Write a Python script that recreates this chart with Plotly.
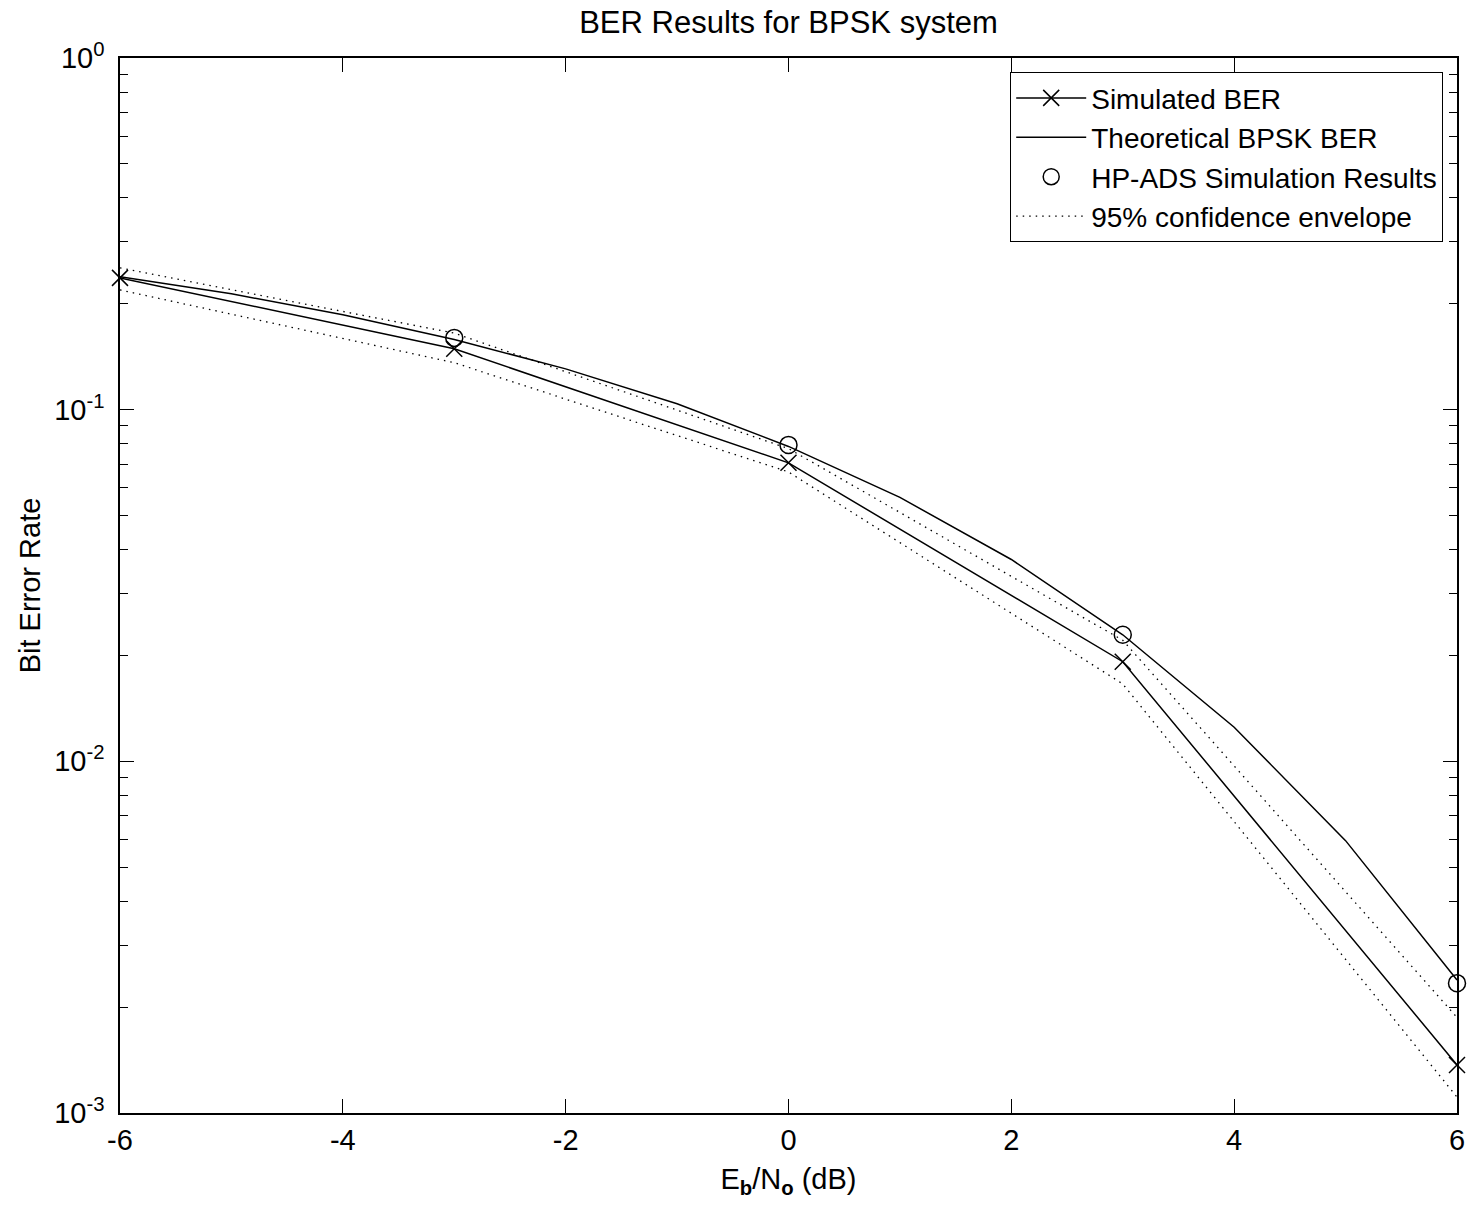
import plotly.graph_objects as go

# ---- data ----
ebno_theory = [-6, -5, -4, -3, -2, -1, 0, 1, 2, 3, 4, 5, 6]
ber_theory = [0.2388, 0.2135, 0.1861, 0.1584, 0.1306, 0.1040, 0.0786,
              0.0563, 0.0375, 0.0229, 0.0125, 0.00595, 0.00239]

ebno_sim = [-6, -3, 0, 3, 6]
ber_sim = [0.237, 0.149, 0.0706, 0.0192, 0.00137]
ber_upper = [0.253, 0.165, 0.0775, 0.0221, 0.00187]
ber_lower = [0.219, 0.136, 0.0665, 0.0166, 0.00111]

ebno_ads = [-3, 0, 3, 6]
ber_ads = [0.160, 0.0794, 0.0229, 0.00234]

x_ticks = [-6, -4, -2, 0, 2, 4, 6]
x_tick_text = ["-6", "-4", "-2", "0", "2", "4", "6"]
y_ticks = [1e-3, 1e-2, 1e-1, 1e0]
y_tick_text = ["10<sup>-3</sup>", "10<sup>-2</sup>", "10<sup>-1</sup>", "10<sup>0</sup>"]
y_minor = [m * 10.0 ** e for e in (-3, -2, -1) for m in range(2, 10)]

FONT = "Liberation Sans, Arial, sans-serif"
DOT = "1.5px,5px"

fig = go.Figure()

fig.add_trace(go.Scatter(
    x=ebno_sim, y=ber_sim, mode="lines+markers", name="Simulated BER",
    line=dict(color="black", width=1.5),
    marker=dict(symbol="x-thin", size=16, line=dict(color="black", width=1.5)),
    cliponaxis=False))

fig.add_trace(go.Scatter(
    x=ebno_theory, y=ber_theory, mode="lines", name="Theoretical BPSK BER",
    line=dict(color="black", width=1.5)))

fig.add_trace(go.Scatter(
    x=ebno_ads, y=ber_ads, mode="markers", name="HP-ADS Simulation Results",
    marker=dict(symbol="circle-open", size=17, color="black", line=dict(color="black", width=1.5)),
    cliponaxis=False))

fig.add_trace(go.Scatter(
    x=ebno_sim, y=ber_upper, mode="lines", name="95% confidence envelope",
    legendgroup="env", line=dict(color="black", width=1.3, dash=DOT)))

fig.add_trace(go.Scatter(
    x=ebno_sim, y=ber_lower, mode="lines", name="95% confidence envelope",
    legendgroup="env", showlegend=False,
    line=dict(color="black", width=1.3, dash=DOT)))

fig.update_layout(
    width=1471, height=1205,
    margin=dict(l=120, r=14, t=58, b=92, autoexpand=False),
    paper_bgcolor="white", plot_bgcolor="white",
    font=dict(family=FONT, size=29, color="black"),
    title=dict(text="BER Results for BPSK system", xref="paper", x=0.5, xanchor="center",
               yref="container", y=1 - 22 / 1205, yanchor="middle", font=dict(size=31)),
    showlegend=True,
    legend=dict(x=(1443 - 120) / 1337, xanchor="right",
                y=1 - (72 - 58) / 1055, yanchor="top",
                bordercolor="black", borderwidth=1.2, bgcolor="white",
                font=dict(size=28), tracegroupgap=0, itemwidth=70),
)

fig.update_xaxes(
    range=[-6, 6], tickmode="array", tickvals=x_ticks, ticktext=x_tick_text,
    ticks="inside", ticklen=14, tickwidth=1.2, tickcolor="black",
    showline=True, linecolor="black", linewidth=1.5, mirror="allticks",
    showgrid=False, zeroline=False, automargin=False,
    tickfont=dict(size=29),
    title=dict(text="E<sub><b>b</b></sub>/N<sub><b>o</b></sub> (dB)", standoff=14,
               font=dict(size=29)))

fig.update_yaxes(
    type="log", range=[-3, 0], tickmode="array", tickvals=y_ticks, ticktext=y_tick_text,
    ticks="inside", ticklen=14, tickwidth=1.2, tickcolor="black",
    minor=dict(tickmode="array", tickvals=y_minor, ticks="inside", ticklen=8,
               tickwidth=1.2, tickcolor="black", showgrid=False),
    showline=True, linecolor="black", linewidth=1.5, mirror="allticks",
    showgrid=False, zeroline=False, automargin=False,
    tickfont=dict(size=29), ticklabelstandoff=8,
    title=dict(text="Bit Error Rate", standoff=5, font=dict(size=29)))

fig.write_html("out.html")
